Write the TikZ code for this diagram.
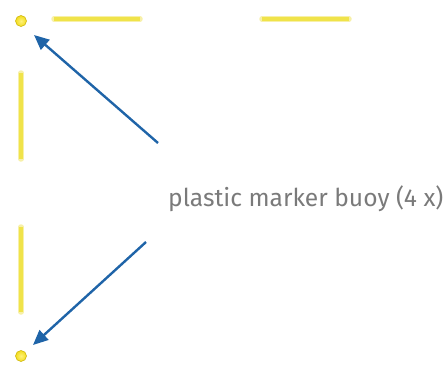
\documentclass[tikz,border=0pt]{standalone}
\usepackage{fontspec}
\setsansfont{Fira Sans}
\usetikzlibrary{arrows.meta}
\definecolor{buoyyel}{HTML}{F2DC1E}
\definecolor{buoyhi}{HTML}{FFF27A}
\definecolor{buoyedge}{HTML}{C9B000}
\definecolor{baryel}{HTML}{F0E34A}
\definecolor{baredge}{HTML}{F7F0A8}
\definecolor{arrowblue}{HTML}{1F64A8}
\definecolor{labelgray}{HTML}{7A7A7A}
\tikzset{
  buoy/.style={circle, inner sep=0pt, minimum size=11pt, inner color=buoyhi, outer color=buoyyel, draw=buoyedge, line width=0.5pt},
  barh/.style={draw=baredge, line width=5.5pt, line cap=round},
  barcore/.style={draw=baryel, line width=3.5pt},
  pointer/.style={draw=arrowblue, line width=2.4pt, -{Triangle[length=15pt,width=13pt]}},
  lbl/.style={font=\sffamily\fontsize{24.6}{28}\selectfont, text=labelgray, inner sep=0pt, anchor=base west}
}
\begin{document}
\begin{tikzpicture}[x=1pt,y=-1pt]
\useasboundingbox (0,0) rectangle (448,367);
% buoys
\node[buoy] (b1) at (21,21) {};
\node[buoy] (b2) at (21,356) {};
% ropes / bars
\coordinate (h1a) at (54,19); \coordinate (h1b) at (140,19);
\coordinate (h2a) at (262,19); \coordinate (h2b) at (349,19);
\coordinate (v1a) at (21,73); \coordinate (v1b) at (21,159);
\coordinate (v2a) at (21,227); \coordinate (v2b) at (21,312);
\foreach \a/\b in {h1a/h1b,h2a/h2b,v1a/v1b,v2a/v2b}{
  \draw[barh] (\a) -- (\b);
  \draw[barcore] (\a) -- (\b);
}
% label
\node[lbl] (lab) at (168,206) {plastic marker buoy (4 x)};
\coordinate (s1) at (158,143);
\coordinate (t1) at (34,35);
\coordinate (s2) at (146,242);
\coordinate (t2) at (33,345);
\draw[pointer] (s1) -- (t1);
\draw[pointer] (s2) -- (t2);
\end{tikzpicture}
\end{document}
